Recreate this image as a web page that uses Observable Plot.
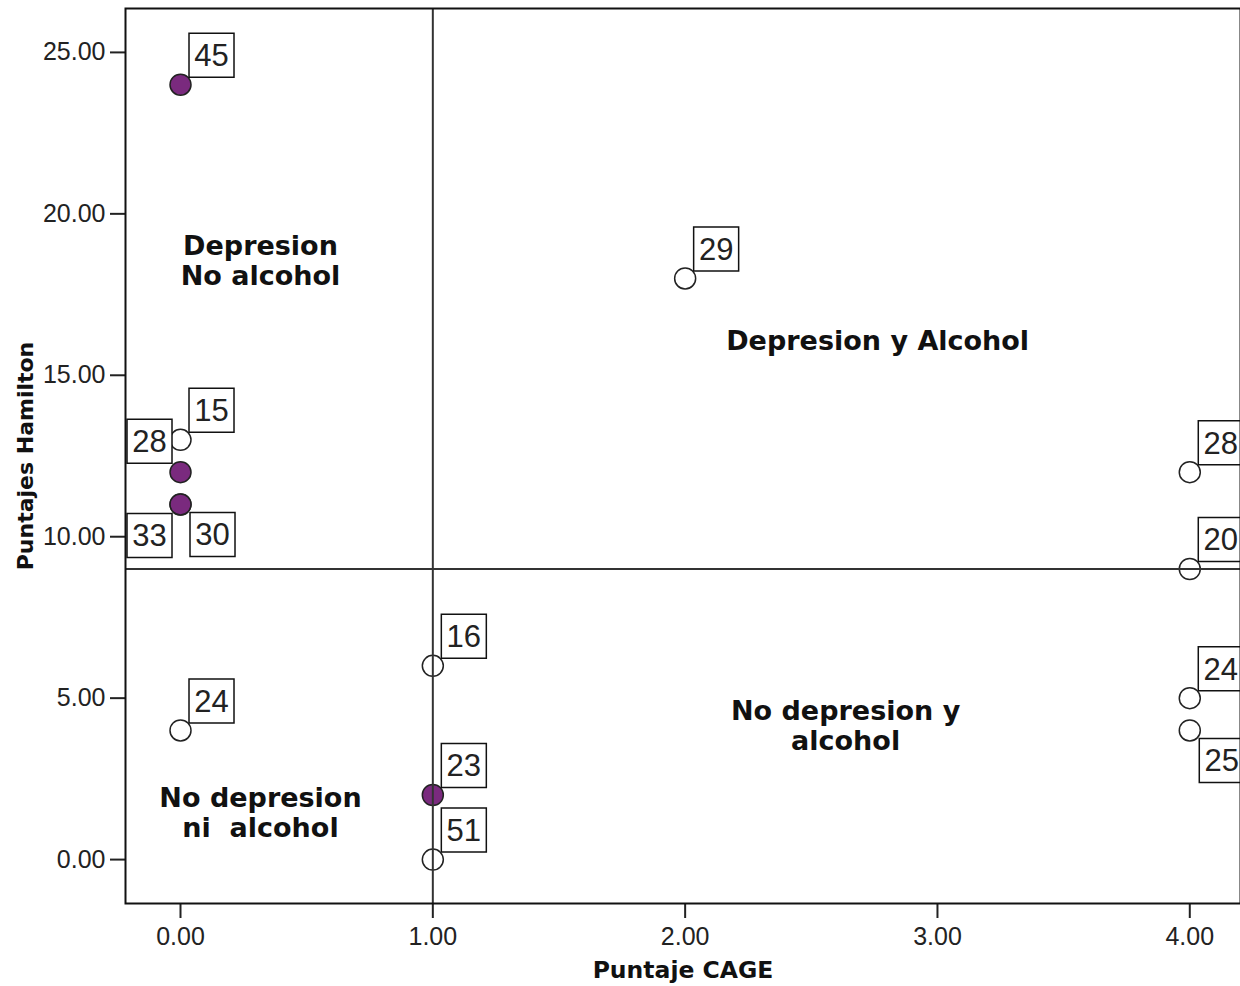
<!DOCTYPE html>
<html>
<head>
<meta charset="utf-8">
<script src="https://cdn.jsdelivr.net/npm/d3@7"></script>
<script src="https://cdn.jsdelivr.net/npm/@observablehq/plot@0.6"></script>
<style>
  html, body { margin: 0; padding: 0; background: #fff; }
  svg text { white-space: pre; }
</style>
</head>
<body>
<div id="chart"></div>
<script>
// ---- data ----
const cageScore   = [0, 0, 0, 0, 0, 0, 1, 1, 1, 2, 4, 4, 4, 4];
const hamilton    = [24, 13, 12, 11, 11, 4, 6, 2, 0, 18, 12, 9, 5, 4];
const caseLabels  = ["45", "15", "28", "33", "30", "24", "16", "23", "51", "29", "28", "20", "24", "25"];
const highlighted = [true, false, true, true, true, false, false, true, false, false, false, false, false, false];
const labelSide   = ["UR", "UR", "UL", "LL", "LR", "UR", "UR", "UR", "UR", "UR", "UR", "UR", "UR", "LR"];

const xTicks = [0, 1, 2, 3, 4];
const yTicks = [0, 5, 10, 15, 20, 25];
const cutCage = [1];
const cutHamilton = [9];

const regionLabels = ["Depresion\nNo alcohol", "Depresion y Alcohol", "No depresion y\nalcohol", "No depresion\nni  alcohol"];
const regionX = [0.317, 2.763, 2.636, 0.317];
const regionY = [18.57, 16.09, 4.15, 1.46];

const xTitle = "Puntaje CAGE";
const yTitle = "Puntajes Hamilton";

// ---- tables built from the arrays ----
const points = cageScore.map((c, i) => ({
  cage: c, ham: hamilton[i], label: caseLabels[i], hi: highlighted[i], side: labelSide[i]
}));
const regions = regionLabels.map((t, i) => ({text: t, x: regionX[i], y: regionY[i]}));

const boxSymbol = { draw(ctx) { ctx.rect(-22.5, -22, 45, 44); } };
const offsets = { UR: [31, -29.5], UL: [-31, -31], LL: [-31, 31], LR: [32, 30] };

const labelMarks = Object.entries(offsets).flatMap(([side, [dx, dy]]) => {
  const sub = points.filter(d => d.side === side);
  return [
    Plot.dot(sub, {x: "cage", y: "ham", symbol: boxSymbol, r: 10, fill: "white", stroke: "#111", strokeWidth: 1.5, dx, dy}),
    Plot.text(sub, {x: "cage", y: "ham", text: "label", dx, dy: dy + 1, fontSize: 31, fill: "#222"})
  ];
});

const boldFont = "'DejaVu Sans', Verdana, sans-serif";

const chart = Plot.plot({
  width: 1240,
  height: 986,
  marginTop: 8,
  marginLeft: 125,
  marginRight: 0,
  marginBottom: 83,
  style: { fontFamily: "'Liberation Sans', Arial, sans-serif", background: "white", color: "#222" },
  x: { domain: [-0.218, 4.201], label: null },
  y: { domain: [-1.36, 26.36], label: null },
  marks: [
    Plot.axisX({ticks: xTicks, tickFormat: d => d.toFixed(2), tickSize: 15, tickPadding: 9, fontSize: 25, stroke: "#222", strokeWidth: 2, label: null}),
    Plot.axisY({ticks: yTicks, tickFormat: d => d.toFixed(2), tickSize: 15, tickPadding: 5, fontSize: 25, stroke: "#222", strokeWidth: 2, label: null}),
    Plot.dot(points, {x: "cage", y: "ham", r: 10.5, fill: d => d.hi ? "#7a2a7e" : "white", stroke: "#222", strokeWidth: 1.5}),
    Plot.ruleX(cutCage, {stroke: "#333", strokeWidth: 2}),
    Plot.ruleY(cutHamilton, {stroke: "#333", strokeWidth: 2}),
    ...labelMarks,
    Plot.text(regions, {x: "x", y: "y", text: "text", fontSize: 27, fontWeight: "bold", fontFamily: boldFont, fill: "#111", lineHeight: 1.11}),
    Plot.frame({stroke: "#111", strokeWidth: 2}),
    Plot.text([xTitle], {frameAnchor: "bottom", lineAnchor: "middle", dy: 67, fontSize: 23.5, fontWeight: "bold", fontFamily: boldFont, fill: "#111"}),
    Plot.text([yTitle], {frameAnchor: "left", lineAnchor: "middle", textAnchor: "middle", dx: -100, rotate: -90, fontSize: 22, fontWeight: "bold", fontFamily: boldFont, fill: "#111"})
  ]
});
document.getElementById("chart").appendChild(chart);
</script>
</body>
</html>
